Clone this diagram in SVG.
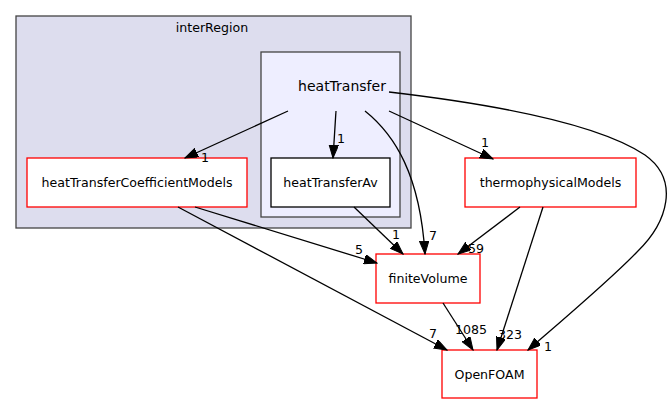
<svg xmlns="http://www.w3.org/2000/svg" width="668" height="404" viewBox="0 0 668 404">
<style>
text{font-family:"DejaVu Sans",sans-serif;font-size:12.6px;fill:#000}
.c{text-anchor:middle}
.node{fill:#fff;stroke:#ff0000;stroke-width:1.3}
.nodeb{fill:#fff;stroke:#000;stroke-width:1.3}
.e{fill:none;stroke:#000;stroke-width:1.3;marker-end:url(#ah)}
</style>
<defs>
<marker id="ah" markerUnits="userSpaceOnUse" markerWidth="14" markerHeight="10" refX="13" refY="4.7" orient="auto">
<path d="M0,0 L13,4.7 L0,9.4 z" fill="#000" stroke="#000" stroke-width="1"/>
</marker>
</defs>
<g id="cluster_interRegion">
<rect x="16" y="16" width="395" height="212" fill="#ddddee" stroke="#444" stroke-width="1.3"/>
<text class="c" x="212" y="32">interRegion</text>
</g>
<g id="cluster_heatTransfer">
<rect x="261" y="52" width="139" height="165" fill="#eeeeff" stroke="#444" stroke-width="1.3"/>
<text class="c" x="342" y="91" style="font-size:14px">heatTransfer</text>
</g>
<g id="heatTransferCoefficientModels">
<rect class="node" x="27" y="158" width="220" height="49"/>
<text class="c" x="137" y="187">heatTransferCoefficientModels</text>
</g>
<g id="heatTransferAv">
<rect class="nodeb" x="271" y="158" width="119" height="49"/>
<text class="c" x="330.5" y="187">heatTransferAv</text>
</g>
<g id="thermophysicalModels">
<rect class="node" x="465" y="158" width="171" height="49"/>
<text class="c" x="550.5" y="187">thermophysicalModels</text>
</g>
<g id="finiteVolume">
<rect class="node" x="376" y="254" width="104" height="49"/>
<text class="c" x="428" y="283">finiteVolume</text>
</g>
<g id="OpenFOAM">
<rect class="node" x="442" y="350" width="95" height="48"/>
<text class="c" x="489.5" y="379">OpenFOAM</text>
</g>
<g id="connectors">
<path class="e" d="M288,111 L185,158"/>
<text class="c" x="205" y="162">1</text>
<path class="e" d="M336,111 L333,158"/>
<text class="c" x="341" y="143">1</text>
<path class="e" d="M365,111 C395,135 420,175 425,254"/>
<text class="c" x="433" y="240">7</text>
<path class="e" d="M389,111 L493,159"/>
<text class="c" x="485" y="147">1</text>
<path class="e" d="M389,92 C500,105 600,125 645,155 C680,180 668,222 637,252 C610,280 565,318 528,350"/>
<text class="c" x="548" y="351">1</text>
<path class="e" d="M195,207 L377,263"/>
<text class="c" x="359" y="254">5</text>
<path class="e" d="M178,207 L447,350"/>
<text class="c" x="433" y="338">7</text>
<path class="e" d="M354,207 L403,254"/>
<text class="c" x="396" y="239">1</text>
<path class="e" d="M520,207 L458,254"/>
<text class="c" x="476" y="253">59</text>
<path class="e" d="M543,207 L497,350"/>
<text class="c" x="510" y="339">323</text>
<path class="e" d="M443,303 L473,350"/>
<text class="c" x="471" y="334">1085</text>
</g>
</svg>
